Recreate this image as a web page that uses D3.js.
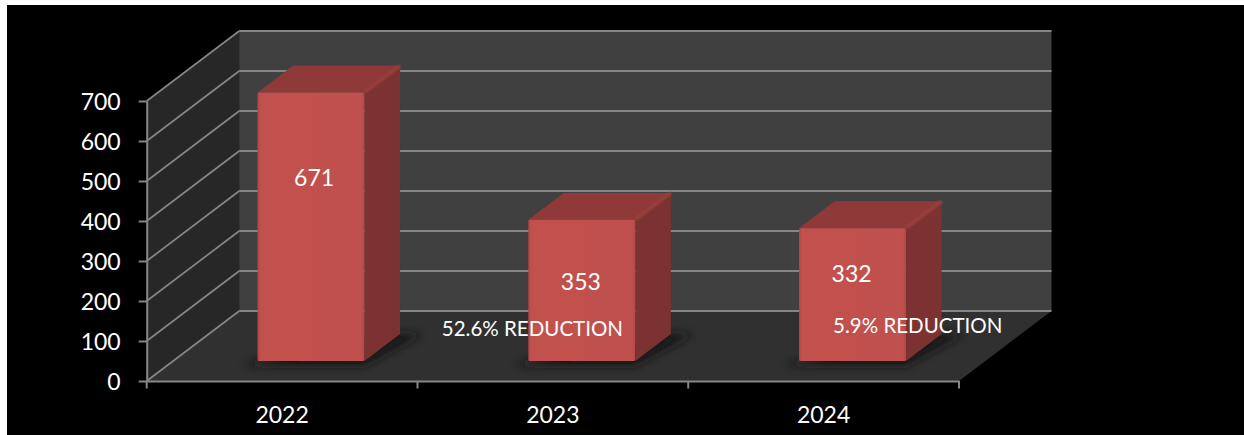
<!DOCTYPE html>
<html><head><meta charset="utf-8">
<script src="https://d3js.org/d3.v7.min.js"></script>
<style>html,body{margin:0;padding:0;background:#fff}svg{display:block}text{font-family:Lato,sans-serif;fill:#fff}</style>
</head><body><div id="c"></div>
<script>
const categories = ["2022","2023","2024"];
const values = [671,353,332];
const yTicks = [0,100,200,300,400,500,600,700];
const valueLabelLevels = [507,247,267];
const valueLabelShifts = [32,28,28];
const notes = [
  {text:"52.6% REDUCTION", at:"2023", v:130, off:-111},
  {text:"5.9% REDUCTION", at:"2024", v:137, off:9.5}
];
const W=1244,H=435;
const svg=d3.select("#c").append("svg").attr("width",W).attr("height",H);
const defs=svg.append("defs");
defs.append("filter").attr("id","sh").attr("x","-30%").attr("y","-60%").attr("width","160%").attr("height","220%")
  .append("feGaussianBlur").attr("stdDeviation",5);
defs.append("filter").attr("id","soft").append("feGaussianBlur").attr("stdDeviation",1);
const fg=defs.append("linearGradient").attr("id","front");
[[0,"#b04744"],[0.03,"#c2514e"],[0.97,"#c0504d"],[1,"#b04744"]].forEach(d=>fg.append("stop").attr("offset",d[0]).attr("stop-color",d[1]));
svg.append("rect").attr("x",7).attr("y",5).attr("width",W-7).attr("height",H-5).attr("fill","#000");

const x0=146.7,x1=959;
const x=d3.scaleBand().domain(categories).range([x0,x1]).paddingInner(0).paddingOuter(0);
const y=d3.scaleLinear().domain([0,700]).range([381,101]);
// depth: 0 at the front plane, 1 at the back wall
const dx=d3.scaleLinear().domain([0,1]).range([0,92.5]);
const dy=d3.scaleLinear().domain([0,1]).range([0,-70]);
const P=(px,py,t)=>[px+dx(t),py+dy(t)];
const poly=(g,pts,fill)=>g.append("polygon").attr("points",pts.map(p=>p.join(",")).join(" ")).attr("fill",fill);
const grey="#868686";

// walls & floor
poly(svg,[P(x0,y(0),0),P(x0,y(700),0),P(x0,y(700),1),P(x0,y(0),1)],"#272727");
poly(svg,[P(x0,y(0),1),P(x0,y(700),1),P(x1,y(700),1),P(x1,y(0),1)],"#404040");
poly(svg,[P(x0,y(0),0),P(x0,y(0),1),P(x1,y(0),1),P(x1,y(0),0)],"#303030");

// gridlines
const line=(a,b,w)=>svg.append("line").attr("x1",a[0]).attr("y1",a[1]).attr("x2",b[0]).attr("y2",b[1]).attr("stroke",grey).attr("stroke-width",w);
yTicks.forEach(v=>{
  line(P(x0,y(v),0),P(x0,y(v),1),1.7);
  line(P(x0,y(v),1),P(x1,y(v),1),2);
});
// axes
const ax=svg.append("g").attr("transform",`translate(${x0},0)`).call(d3.axisLeft(y).tickValues(yTicks).tickSize(8).tickPadding(18).tickSizeOuter(0));
ax.select(".domain").attr("stroke",grey).attr("stroke-width",2);
ax.selectAll("line").attr("stroke",grey).attr("stroke-width",2);
ax.selectAll("text").attr("font-size",23).attr("font-family","Lato").attr("fill","#fff").attr("dy","0.37em");
const bx=svg.append("g").attr("transform","translate(0,381)").call(d3.axisBottom(x).tickSize(0).tickPadding(26).tickSizeOuter(0));
bx.select(".domain").attr("stroke",grey).attr("stroke-width",2);
bx.selectAll("text").attr("font-size",23).attr("font-family","Lato").attr("fill","#fff");
[...categories.map(c=>x(c)),x1].forEach(px=>svg.append("line").attr("x1",px).attr("x2",px).attr("y1",381).attr("y2",388.5).attr("stroke",grey).attr("stroke-width",2));

// bars
const tA=0.286,tB=0.67,barW=107,barShift=2.5;
const bars=svg.append("g").selectAll("g").data(categories.map((c,i)=>({c,v:values[i],i}))).join("g");
bars.each(function(d){
  const g=d3.select(this);
  const l=x(d.c)+(x.bandwidth()-barW)/2+barShift, r=l+barW, b=y(0), t=y(d.v);
  // soft floor shadow
  poly(g,[P(l-16,b+4,tA),P(r,b+4,tA),P(r+22,b,tB),P(r,b,tB),P(l,b,tA)],"#181818").attr("filter","url(#sh)");
  poly(g,[P(r,b,tA),P(r,t,tA),P(r,t,tB),P(r,b,tB)],"#7c3230");
  poly(g,[P(l,t,tA),P(l,t,tB),P(r,t,tB),P(r,t,tA)],"#8f3a38");
  const e1=P(r,t,tA),e2=P(r,t,tB);
  g.append("line").attr("x1",e1[0]).attr("y1",e1[1]).attr("x2",e2[0]).attr("y2",e2[1]).attr("stroke","#9c413e").attr("stroke-width",3).attr("filter","url(#soft)");
  const p=P(l,t,tA);
  g.append("rect").attr("x",p[0]).attr("y",p[1]).attr("width",barW).attr("height",b-t).attr("fill","url(#front)").attr("rx",1.5);
});
// value labels
bars.append("text").attr("font-size",23).attr("text-anchor","middle")
  .attr("x",d=>x(d.c)+x.bandwidth()/2+valueLabelShifts[d.i])
  .attr("y",d=>y(valueLabelLevels[d.i])).attr("dy","0.35em").text(d=>d.v);
// notes
svg.append("g").selectAll("text").data(notes).join("text").attr("font-size",20.5)
  .attr("x",d=>x(d.at)+x.bandwidth()/2+d.off).attr("y",d=>y(d.v)).attr("dy","0.35em").text(d=>d.text);
</script></body></html>
